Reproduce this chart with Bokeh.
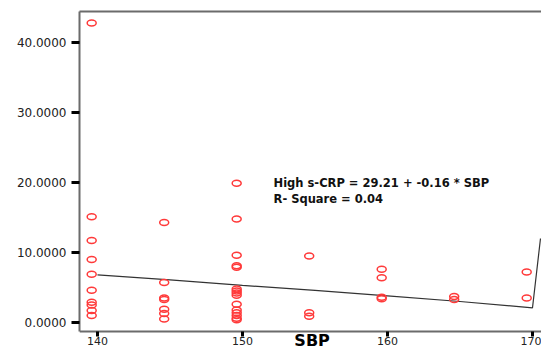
from bokeh.plotting import figure
from bokeh.models import Range1d, LinearAxis, FixedTicker, Label, ColumnDataSource
from bokeh.embed import file_html
from bokeh.resources import INLINE

# ---- data ----
sbp = [139.6] * 10 + [144.6] * 7 + [149.6] * 15 + [154.6] * 3 + [159.6] * 4 + [164.6] * 2 + [169.6] * 2
hs_crp = [42.8, 15.1, 11.7, 9.0, 6.9, 4.6, 2.9, 2.5, 1.7, 1.0,
          14.3, 5.7, 3.5, 3.3, 1.9, 1.3, 0.5,
          19.9, 14.8, 9.6, 8.1, 7.9, 4.8, 4.5, 4.2, 3.9, 2.6, 1.8, 1.4, 1.0, 0.6, 0.4,
          9.5, 1.4, 0.9,
          7.6, 6.4, 3.6, 3.4,
          3.7, 3.3,
          7.2, 3.5]

fit_sbp = [140, 145, 150, 155, 160, 165, 170, 170.55]
fit_crp = [6.8, 6.1, 5.3, 4.6, 3.8, 3.0, 2.1, 12.0]

x_ticks = [140, 150, 160, 170]
x_tick_labels = ["140", "150", "160", "170"]
y_ticks = [0, 10, 20, 30, 40]
y_tick_labels = ["0.0000", "10.0000", "20.0000", "30.0000", "40.0000"]

x_title = "SBP"
eq_text = "High s-CRP = 29.21 + -0.16 * SBP"
r2_text = "R- Square = 0.04"

FONT = "DejaVu Sans"
AX_GRAY = "#6b6b6b"
Y_LO, Y_HI = -1.29, 44.43      # visible box of the plot
Y_CANVAS_LO = -3.857           # frame reaches the bottom of the page

p = figure(width=541, height=349, output_backend="svg", toolbar_location=None,
           x_axis_location=None, y_axis_location=None,
           x_range=Range1d(138.76, 170.62), y_range=Range1d(Y_CANVAS_LO, Y_HI),
           min_border_left=79, min_border_right=0, min_border_top=11, min_border_bottom=0)
p.outline_line_color = None
p.grid.visible = False
p.background_fill_color = "white"
p.border_fill_color = "white"

# left axis
yax = LinearAxis(ticker=FixedTicker(ticks=y_ticks), bounds=(Y_LO, Y_HI),
                 major_label_overrides={t: l for t, l in zip(y_ticks, y_tick_labels)})
yax.axis_line_color = AX_GRAY
yax.axis_line_width = 2
yax.major_tick_line_color = "black"
yax.major_tick_line_width = 3
yax.major_tick_out = 8
yax.major_tick_in = 0
yax.minor_tick_out = 0
yax.minor_tick_in = 0
yax.major_label_standoff = 5
yax.major_label_text_font = FONT
yax.major_label_text_font_size = "12px"
yax.major_label_text_color = "#222222"
p.add_layout(yax, "left")

# bottom axis, drawn inside the frame at the bottom of the box
xax = LinearAxis(ticker=FixedTicker(ticks=x_ticks), fixed_location=Y_LO,
                 major_label_overrides={t: l for t, l in zip(x_ticks, x_tick_labels)})
xax.axis_line_color = AX_GRAY
xax.axis_line_width = 2
xax.major_tick_line_color = "black"
xax.major_tick_line_width = 3
xax.major_tick_out = 5
xax.major_tick_in = 0
xax.minor_tick_out = 0
xax.minor_tick_in = 0
xax.major_label_standoff = 0
xax.major_label_text_font = FONT
xax.major_label_text_font_size = "11px"
xax.major_label_text_color = "#222222"
p.add_layout(xax, "below")

# top border line
tax = LinearAxis(ticker=FixedTicker(ticks=[]))
tax.axis_line_color = AX_GRAY
tax.axis_line_width = 2
tax.major_tick_out = 0
tax.major_tick_in = 0
tax.minor_tick_out = 0
tax.minor_tick_in = 0
tax.major_label_text_font_size = "1px"
tax.major_label_standoff = 0
p.add_layout(tax, "above")

# data
src = ColumnDataSource(dict(sbp=sbp, crp=hs_crp))
p.line(fit_sbp, fit_crp, line_color="#333333", line_width=1.2)
p.ellipse(x="sbp", y="crp", source=src, width=9, height=6,
          width_units="screen", height_units="screen",
          fill_color=None, line_color="#ff3a3a", line_width=1.5)

p.add_layout(Label(x=154.8, y=-2.5, text=x_title, text_align="center", text_baseline="middle",
                   text_font=FONT, text_font_size="16px", text_font_style="bold", text_color="black"))

p.add_layout(Label(x=152.14, y=20.0, text=eq_text, text_align="left", text_baseline="middle",
                   text_font=FONT, text_font_size="11.5px", text_font_style="bold", text_color="#111111"))
p.add_layout(Label(x=152.14, y=17.71, text=r2_text, text_align="left", text_baseline="middle",
                   text_font=FONT, text_font_size="11.5px", text_font_style="bold", text_color="#111111"))

open("out.html", "w").write(file_html(p, INLINE))
